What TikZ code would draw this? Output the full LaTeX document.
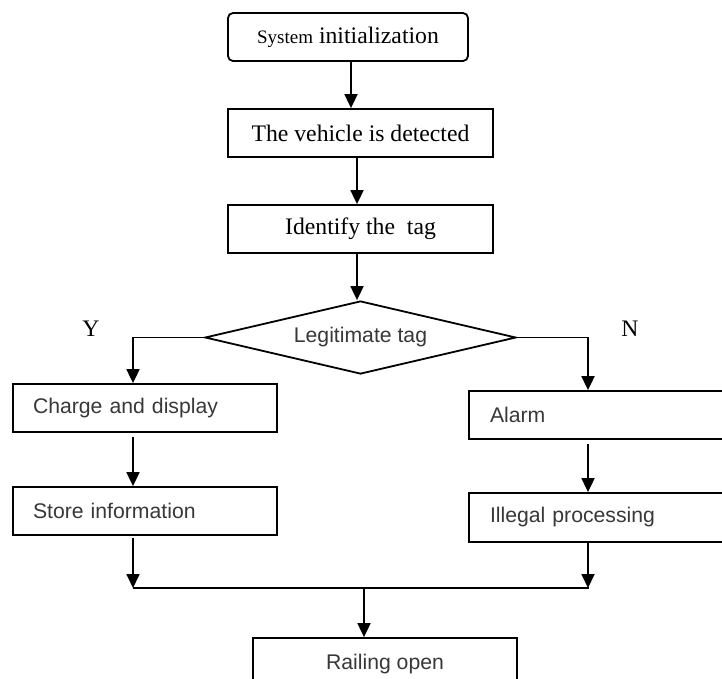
\documentclass[tikz,border=0pt]{standalone}
\usepackage{fontspec}
\setmainfont{Liberation Serif}
\newfontfamily\sansf{Liberation Sans}
\usetikzlibrary{arrows.meta,shapes.geometric}
\definecolor{txtgray}{HTML}{383838}
\tikzset{
  serifbox/.style={draw, line width=1.8pt, inner sep=0pt, font=\fontsize{23.7}{27}\selectfont},
  sansbox/.style={draw, line width=1.8pt, inner ysep=0pt, font=\sansf\fontsize{21.2}{25}\selectfont, text=txtgray, align=left},
  decision/.style={draw, diamond, line width=1.8pt, inner sep=0pt, font=\sansf\fontsize{21.2}{25}\selectfont, text=txtgray},
  conn/.style={line width=1.8pt},
  arr/.style={line width=1.8pt, -{Triangle[length=14pt,width=13pt]}},
  lbl/.style={font=\fontsize{23.7}{27}\selectfont, inner sep=0pt}
}
\begin{document}
\begin{tikzpicture}[x=1pt,y=-1pt]
\clip (0,0) rectangle (722,678);
\fill[white] (0,0) rectangle (722,678);
% nodes
\node[serifbox, rounded corners=5pt, minimum width=240pt, minimum height=48pt] (sys) at (348,37)
  {{\fontsize{19}{22}\selectfont System} initialization};
\node[serifbox, minimum width=265pt, minimum height=48pt] (veh) at (360.5,133) {The vehicle is detected};
\node[serifbox, minimum width=265pt, minimum height=48pt] (idt) at (360.5,229) {Identify the\ \ tag};
\node[decision, minimum width=311pt, minimum height=73pt, aspect=4.26] (dia) at (360.5,337.5) {Legitimate tag};
\node[sansbox, minimum height=48pt, text width=224pt, inner xsep=20pt] (chg) at (145,408) {Charge and display};
\node[sansbox, minimum height=48pt, text width=224pt, inner xsep=20pt] (sto) at (145,511) {Store information};
\node[sansbox, minimum height=48pt, text width=229pt, inner xsep=21pt] (alm) at (604.5,415) {Alarm};
\node[sansbox, minimum height=49pt, text width=229pt, inner xsep=21pt] (ill) at (604.5,517.5) {Illegal processing};
\node[draw, line width=1.8pt, inner sep=0pt, minimum width=264pt, minimum height=52pt, font=\sansf\fontsize{21.2}{25}\selectfont, text=txtgray] (rail) at (385,664) {\raisebox{2pt}{Railing open}};
\node[lbl] (ylab) at (91,329) {Y};
\node[lbl] (nlab) at (630,329) {N};
% helper coordinates
\coordinate (lx) at (133,0);
\coordinate (rx) at (588,0);
\coordinate (mx) at (364,0);
\coordinate (merge) at (0,588);
% connectors
\draw[arr] ([xshift=3pt]sys.south) -- ([xshift=3pt]sys.south |- veh.north);
\draw[arr] ([xshift=-3.5pt]veh.south) -- ([xshift=-3.5pt]veh.south |- idt.north);
\draw[arr] ([xshift=-3.5pt]idt.south) -- ([xshift=-3.5pt]idt.south |- dia.north);
\draw[arr] (dia.west) -| (lx |- chg.north);
\draw[arr] (dia.east) -| (rx |- alm.north);
\draw[arr, shorten <=4pt] (lx |- chg.south) -- (lx |- sto.north);
\draw[arr, shorten <=4pt] (rx |- alm.south) -- (rx |- ill.north);
\draw[arr, shorten <=2pt] (lx |- sto.south) -- (lx |- merge);
\draw[arr] (rx |- ill.south) -- (rx |- merge);
\draw[conn] (lx |- merge) -- ([xshift=1pt]rx |- merge);
\draw[arr] (mx |- merge) -- (mx |- rail.north);
\end{tikzpicture}
\end{document}
